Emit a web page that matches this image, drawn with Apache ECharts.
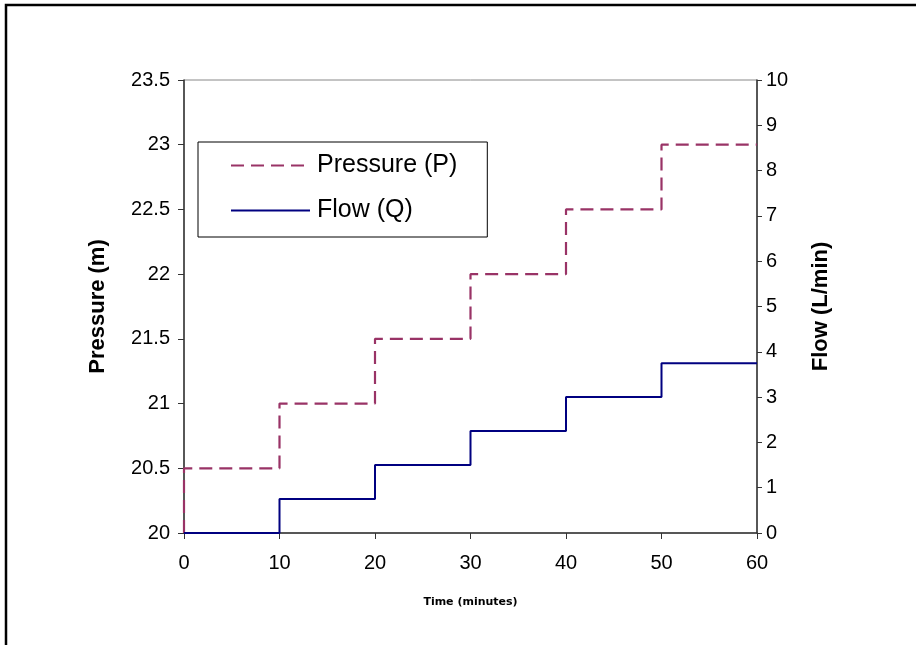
<!DOCTYPE html>
<html>
<head>
<meta charset="utf-8">
<script src="https://cdn.jsdelivr.net/npm/echarts@6/dist/echarts.min.js"></script>
<style>html,body{margin:0;padding:0;background:#fff}#c{width:916px;height:645px}</style>
</head>
<body>
<div id="c"></div>
<script>
// Data
var timeTicks = [0, 10, 20, 30, 40, 50, 60];
var pressureTimes = [0, 0, 10, 20, 30, 40, 50, 60];
var pressureValues = [20, 20.5, 21, 21.5, 22, 22.5, 23, 23];
var flowTimes = [0, 10, 20, 30, 40, 50, 60];
var flowValues = [0, 0.75, 1.5, 2.25, 3, 3.75, 3.75];

var pressureData = pressureTimes.map(function (t, i) { return [t, pressureValues[i]]; });
var flowData = flowTimes.map(function (t, i) { return [t, flowValues[i]]; });

var font = '"Liberation Sans", Arial, sans-serif';
var axisColor = '#333';
var chart = echarts.init(document.getElementById('c'));
chart.setOption({
  animation: false,
  backgroundColor: '#fff',
  textStyle: { fontFamily: font },
  graphic: [{
    type: 'rect',
    shape: { x: 6, y: 5, width: 1200, height: 1200 },
    style: { fill: 'none', stroke: '#000', lineWidth: 2.5 },
    z: 100
  }],
  grid: { left: 184, right: 159, top: 80, bottom: 112, show: true, borderColor: '#888', borderWidth: 1 },
  legend: {
    orient: 'vertical',
    left: 198, top: 142,
    padding: [11, 30, 14, 32],
    itemGap: 20,
    itemWidth: 79, itemHeight: 12,
    borderColor: '#000', borderWidth: 1,
    itemStyle: { opacity: 0 },
    textStyle: { fontFamily: font, fontSize: 25, color: '#000', padding: [0, 0, 0, 2] },
    data: ['Pressure (P)', 'Flow (Q)']
  },
  xAxis: {
    type: 'value', min: 0, max: 60, interval: 10,
    name: 'Time (minutes)', nameLocation: 'middle', nameGap: 64,
    nameTextStyle: { fontFamily: '"DejaVu Sans", sans-serif', fontSize: 11, fontWeight: 'bold', color: '#000' },
    axisLine: { lineStyle: { color: axisColor, width: 1.5 } },
    axisTick: { show: true, length: 6, lineStyle: { color: axisColor } },
    axisLabel: { fontFamily: font, fontSize: 20, color: '#000', margin: 20 },
    splitLine: { show: false }
  },
  yAxis: [{
    type: 'value', min: 20, max: 23.5, interval: 0.5, position: 'left',
    name: 'Pressure (m)', nameLocation: 'middle', nameGap: 75, nameRotate: 90,
    nameTextStyle: { fontFamily: font, fontSize: 22, fontWeight: 'bold', color: '#000' },
    axisLine: { show: true, lineStyle: { color: axisColor, width: 1.5 } },
    axisTick: { show: true, length: 6, lineStyle: { color: axisColor } },
    axisLabel: { fontFamily: font, fontSize: 20, color: '#000', margin: 14 },
    splitLine: { show: false }
  }, {
    type: 'value', min: 0, max: 10, interval: 1, position: 'right',
    name: 'Flow (L/min)', nameLocation: 'middle', nameGap: 53, nameRotate: 90,
    nameTextStyle: { fontFamily: font, fontSize: 22, fontWeight: 'bold', color: '#000' },
    axisLine: { show: true, lineStyle: { color: axisColor, width: 1.5 } },
    axisTick: { show: true, length: 5, lineStyle: { color: axisColor } },
    axisLabel: { fontFamily: font, fontSize: 20, color: '#000', margin: 9 },
    splitLine: { show: false }
  }],
  series: [{
    name: 'Pressure (P)', type: 'line', yAxisIndex: 0, step: 'end',
    data: pressureData, symbol: 'none', color: '#993366',
    lineStyle: { color: '#993366', width: 2.2, type: [13, 7] }
  }, {
    name: 'Flow (Q)', type: 'line', yAxisIndex: 1, step: 'end',
    data: flowData, symbol: 'none', color: '#000080',
    lineStyle: { color: '#000080', width: 2 }
  }]
});
</script>
</body>
</html>
